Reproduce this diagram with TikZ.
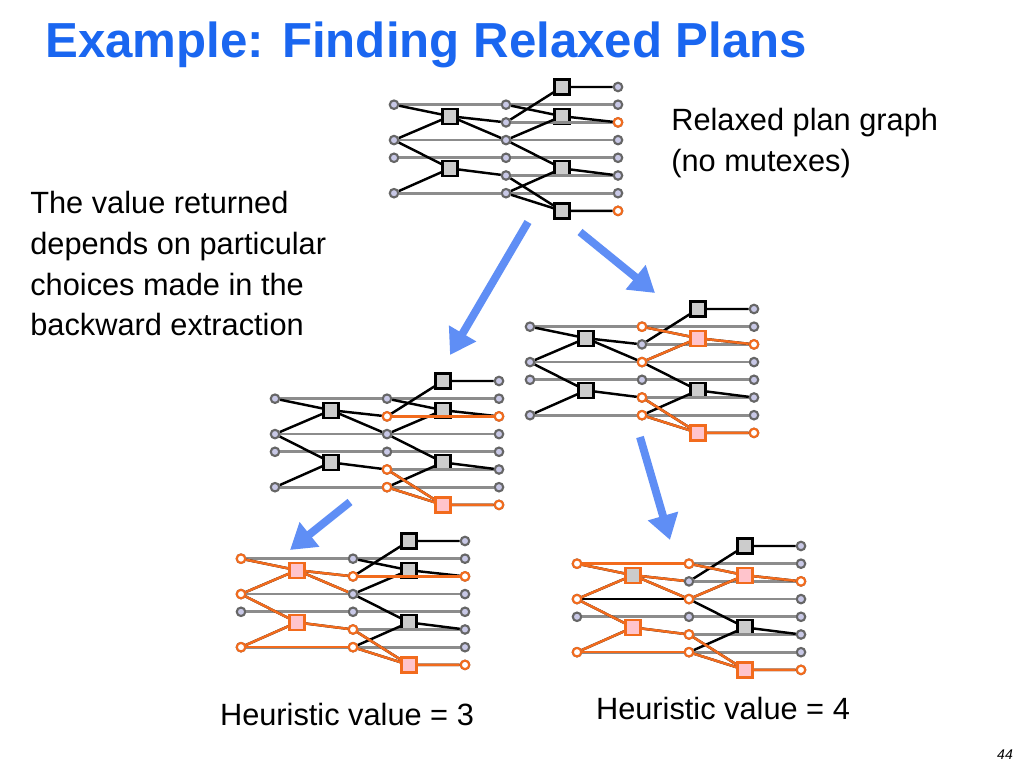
\documentclass[tikz,border=0pt]{standalone}
\usepackage{fontspec}
\setmainfont{Liberation Sans}
\usetikzlibrary{arrows.meta}

\definecolor{titleblue}{HTML}{1A66F0}
\definecolor{arrowblue}{HTML}{5F8EF5}
\definecolor{hlorange}{HTML}{F26B1D}
\definecolor{proplav}{HTML}{C8C8E6}
\definecolor{actpink}{HTML}{FFC4CC}

\def\dx{1.12}
\def\dy{0.354}

\tikzset{
  prop/.style={circle, draw=black!60, fill=proplav, line width=1.2pt, inner sep=0pt, minimum size=0.17cm},
  act/.style={rectangle, draw=black, fill=black!20, line width=1.3pt, inner sep=0pt, minimum size=0.3cm},
  noop/.style={black!45, line width=1.5pt},
  edge/.style={black, line width=1.4pt},
  hprop/.style={prop, draw=hlorange, fill=white},
  hact/.style={act, draw=hlorange, fill=actpink},
  hedge/.style={hlorange, line width=1.4pt},
  bigarrow/.style={arrowblue, line width=4.5pt, -{Triangle[length=0.5cm, width=0.6cm]}},
}

% one relaxed plan graph: #1 name, #2 origin
\newcommand{\relaxgraph}[2]{%
  \begin{scope}[shift={#2}]
    \foreach \r in {1,3,4,6} \node[prop] (#1p0\r) at (0,-\r*\dy) {};
    \foreach \r in {1,...,6} \node[prop] (#1p1\r) at (2*\dx,-\r*\dy) {};
    \foreach \r in {0,...,7} \node[prop] (#1p2\r) at (4*\dx,-\r*\dy) {};
    \node[act] (#1a1) at (\dx,-1.65*\dy) {};
    \node[act] (#1a2) at (\dx,-4.6*\dy) {};
    \node[act] (#1b1) at (3*\dx,0) {};
    \node[act] (#1b2) at (3*\dx,-1.65*\dy) {};
    \node[act] (#1b3) at (3*\dx,-4.6*\dy) {};
    \node[act] (#1b4) at (3*\dx,-7*\dy) {};
    \foreach \r in {1,3,4,6} \draw[noop] (#1p0\r) -- (#1p1\r);
    \foreach \r in {1,...,6} \draw[noop] (#1p1\r) -- (#1p2\r);
    \draw[edge] (#1p01) -- (#1a1) -- (#1p12);
    \draw[edge] (#1p03) -- (#1a1) -- (#1p13);
    \draw[edge] (#1p03) -- (#1a2) -- (#1p15);
    \draw[edge] (#1p06) -- (#1a2);
    \draw[edge] (#1p12) -- (#1b1) -- (#1p20);
    \draw[edge] (#1p11) -- (#1b2) -- (#1p22);
    \draw[edge] (#1p13) -- (#1b2);
    \draw[edge] (#1p13) -- (#1b3) -- (#1p25);
    \draw[edge] (#1p16) -- (#1b3);
    \draw[edge] (#1p15) -- (#1b4) -- (#1p27);
    \draw[edge] (#1p16) -- (#1b4);
  \end{scope}}

\begin{document}
\begin{tikzpicture}
  \useasboundingbox (0,0) rectangle (20.48,15.36);

  \node[anchor=base west, text=titleblue, font=\fontsize{28}{32}\selectfont\bfseries] (title) at (0.78,14.2) {Example: Finding Relaxed Plans};
  \node[anchor=north west, align=left, inner sep=0pt, font=\fontsize{17.5}{23.3}\selectfont] (rpg) at (13.42,13.2) {Relaxed plan graph\\(no mutexes)};
  \node[anchor=north west, align=left, inner sep=0pt, font=\fontsize{17.5}{23.3}\selectfont] (note) at (0.6,11.55) {The value returned\\depends on particular\\choices made in the\\backward extraction};
  \node[font=\fontsize{17.5}{21}\selectfont] (h3) at (6.94,1.07) {Heuristic value = 3};
  \node[font=\fontsize{17.5}{21}\selectfont] (h4) at (14.46,1.18) {Heuristic value = 4};
  \node[font=\rmfamily\itshape\fontsize{8}{9}\selectfont] (page) at (20.1,0.26) {44};

  \relaxgraph{G1}{(7.88,13.62)}
  \relaxgraph{G2}{(10.6,9.18)}
  \relaxgraph{G3}{(5.5,7.74)}
  \relaxgraph{G4}{(4.82,4.54)}
  \relaxgraph{G5}{(11.54,4.44)}

  % top graph: goals
  \node[hprop] (G1g2) at (G1p22) {};
  \node[hprop] (G1g7) at (G1p27) {};

  % right graph
  \draw[hedge] (G2p11) -- (G2b2) -- (G2p22);
  \draw[hedge] (G2p13) -- (G2b2);
  \draw[hedge] (G2p15) -- (G2b4) -- (G2p27);
  \draw[hedge] (G2p16) -- (G2b4);
  \node[hact] (G2h2) at (G2b2) {};
  \node[hact] (G2h4) at (G2b4) {};
  \foreach \n in {p11,p13,p15,p16,p22,p27} \node[hprop] (G2\n o) at (G2\n) {};

  % left graph
  \draw[hedge] (G3p12) -- (G3p22);
  \draw[hedge] (G3p15) -- (G3b4) -- (G3p27);
  \draw[hedge] (G3p16) -- (G3b4);
  \node[hact] (G3h4) at (G3b4) {};
  \foreach \n in {p12,p15,p16,p22,p27} \node[hprop] (G3\n o) at (G3\n) {};

  % bottom left graph
  \draw[hedge] (G4p01) -- (G4a1) -- (G4p12);
  \draw[hedge] (G4p03) -- (G4a1) -- (G4p13);
  \draw[hedge] (G4p03) -- (G4a2) -- (G4p15);
  \draw[hedge] (G4p06) -- (G4a2);
  \draw[hedge] (G4p06) -- (G4p16);
  \draw[hedge] (G4p12) -- (G4p22);
  \draw[hedge] (G4p15) -- (G4b4) -- (G4p27);
  \draw[hedge] (G4p16) -- (G4b4);
  \node[hact] (G4ha1) at (G4a1) {};
  \node[hact] (G4ha2) at (G4a2) {};
  \node[hact] (G4hb4) at (G4b4) {};
  \foreach \n in {p01,p03,p06,p12,p15,p16,p22,p27} \node[hprop] (G4\n o) at (G4\n) {};

  % bottom right graph
  \draw[edge] (G5p03) -- (G5p13);
  \draw[hedge] (G5p01) -- (G5p11);
  \draw[hedge] (G5p06) -- (G5p16);
  \draw[hedge] (G5p01) -- (G5a1) -- (G5p12);
  \draw[hedge] (G5p03) -- (G5a1) -- (G5p13);
  \draw[hedge] (G5p03) -- (G5a2) -- (G5p15);
  \draw[hedge] (G5p06) -- (G5a2);
  \draw[hedge] (G5p11) -- (G5b2) -- (G5p22);
  \draw[hedge] (G5p13) -- (G5b2);
  \draw[hedge] (G5p15) -- (G5b4) -- (G5p27);
  \draw[hedge] (G5p16) -- (G5b4);
  \node[act, draw=hlorange] (G5ha1) at (G5a1) {};
  \node[hact] (G5ha2) at (G5a2) {};
  \node[hact] (G5hb2) at (G5b2) {};
  \node[hact] (G5hb4) at (G5b4) {};
  \foreach \n in {p01,p03,p06,p11,p13,p15,p16,p22,p27} \node[hprop] (G5\n o) at (G5\n) {};

  % arrows between graphs
  \coordinate (s1) at (10.56,10.92); \coordinate (t1) at (9.0,8.26);
  \coordinate (s2) at (11.6,10.72);  \coordinate (t2) at (13.1,9.5);
  \coordinate (s3) at (7.0,5.32);    \coordinate (t3) at (5.8,4.36);
  \coordinate (s4) at (12.8,6.62);   \coordinate (t4) at (13.4,4.56);
  \foreach \i in {1,...,4} \draw[bigarrow] (s\i) -- (t\i);
\end{tikzpicture}
\end{document}
